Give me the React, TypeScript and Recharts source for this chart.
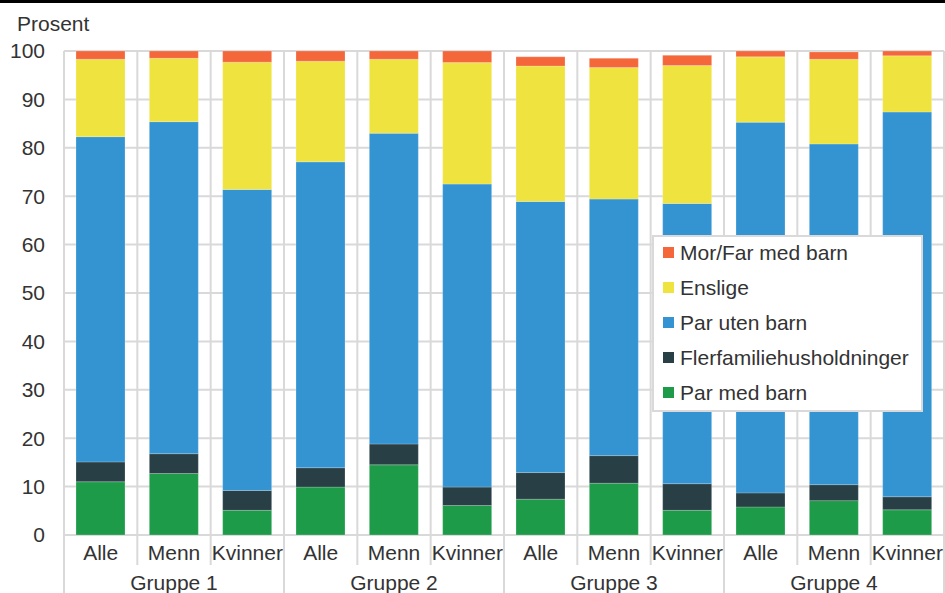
import { BarChart, Bar, XAxis, YAxis, CartesianGrid } from "recharts";

const categories = ["Alle", "Menn", "Kvinner", "Alle", "Menn", "Kvinner", "Alle", "Menn", "Kvinner", "Alle", "Menn", "Kvinner"];
const groups = ["Gruppe 1", "Gruppe 2", "Gruppe 3", "Gruppe 4"];
const yTicks = [0, 10, 20, 30, 40, 50, 60, 70, 80, 90, 100];

const parMedBarn = [11.0, 12.7, 5.1, 9.9, 14.5, 6.1, 7.4, 10.7, 5.1, 5.8, 7.1, 5.2];
const flerfamilie = [4.1, 4.1, 4.1, 4.0, 4.3, 3.8, 5.5, 5.7, 5.5, 2.9, 3.3, 2.7];
const parUtenBarn = [67.2, 68.6, 62.2, 63.2, 64.2, 62.6, 56.0, 53.0, 57.9, 76.6, 70.4, 79.5];
const enslige = [16.0, 13.1, 26.3, 20.8, 15.3, 25.1, 28.0, 27.2, 28.5, 13.5, 17.5, 11.6];
const morFar = [1.7, 1.5, 2.3, 2.1, 1.7, 2.4, 1.9, 1.9, 2.1, 1.2, 1.5, 1.0];

const series = [
  { key: "parMedBarn", name: "Par med barn", color: "#1d9b48", values: parMedBarn },
  { key: "flerfamilie", name: "Flerfamiliehusholdninger", color: "#273f45", values: flerfamilie },
  { key: "parUtenBarn", name: "Par uten barn", color: "#3494d2", values: parUtenBarn },
  { key: "enslige", name: "Enslige", color: "#efe340", values: enslige },
  { key: "morFar", name: "Mor/Far med barn", color: "#f4673a", values: morFar },
];

const data = categories.map((c, i) => {
  const row: any = { name: c, idx: i };
  series.forEach((s) => (row[s.key] = s.values[i]));
  return row;
});

const FONT = "'Liberation Sans', Arial, sans-serif";
const TEXT = "#333333";
const GRID = "#d9d9d9";
const FS = 21;

function GroupTick(props: any) {
  const { x, y, payload, index, width, visibleTicksCount } = props;
  const step = width && visibleTicksCount ? width / visibleTicksCount : 73.33;
  const i = payload?.index ?? index;
  const left = x - step / 2;
  const right = x + step / 2;
  const groupStart = i % 3 === 0;
  return (
    <g>
      <line x1={left} x2={left} y1={y} y2={groupStart ? y + 60 : y + 30} stroke={GRID} strokeWidth={2} />
      {i === categories.length - 1 && (
        <line x1={right} x2={right} y1={y} y2={y + 60} stroke={GRID} strokeWidth={2} />
      )}
      <text x={x} y={y + 25} textAnchor="middle" fill={TEXT} fontSize={FS} fontFamily={FONT}>
        {payload.value}
      </text>
      {i % 3 === 1 && (
        <text x={x} y={y + 55} textAnchor="middle" fill={TEXT} fontSize={FS} fontFamily={FONT}>
          {groups[Math.floor(i / 3)]}
        </text>
      )}
    </g>
  );
}

function LegendBox() {
  const items = [...series].reverse();
  return (
    <div
      style={{
        position: "absolute",
        left: 652,
        top: 235,
        width: 271,
        height: 177,
        boxSizing: "border-box",
        border: `2px solid ${GRID}`,
        background: "#ffffff",
        paddingLeft: 9,
        fontFamily: FONT,
        fontSize: FS,
        color: TEXT,
      }}
    >
      <div style={{ marginTop: -2 }}>
        {items.map((s) => (
          <div key={s.key} style={{ display: "flex", alignItems: "center", height: 35 }}>
            <span style={{ width: 11, height: 11, background: s.color, marginRight: 6, flexShrink: 0 }} />
            <span>{s.name}</span>
          </div>
        ))}
      </div>
    </div>
  );
}

export default function App() {
  return (
    <div style={{ position: "absolute", left: 0, top: 0, width: 945, height: 593, background: "#fff", overflow: "hidden" }}>
      <div
        style={{
          position: "absolute",
          left: 17,
          top: 12,
          fontFamily: FONT,
          fontSize: FS,
          color: TEXT,
          lineHeight: "24px",
        }}
      >
        Prosent
      </div>
      <BarChart
        width={945}
        height={593}
        data={data}
        margin={{ top: 51, right: 1, left: 0, bottom: 0 }}
        barSize={49}
      >
        <CartesianGrid
          stroke={GRID}
          strokeWidth={2}
          verticalCoordinatesGenerator={({ offset }: any) =>
            categories.map((_, i) => offset.left + (i * offset.width) / categories.length).concat(offset.left + offset.width)
          }
        />
        <XAxis
          dataKey="name"
          height={58}
          interval={0}
          axisLine={false}
          tickLine={false}
          tickSize={0}
          tickMargin={0}
          tick={<GroupTick />}
        />
        <YAxis
          width={64}
          domain={[0, 100]}
          ticks={yTicks}
          axisLine={false}
          tickLine={false}
          tickSize={6}
          tickMargin={13}
          tick={{ fill: TEXT, fontSize: FS, fontFamily: FONT }}
        />
        {series.map((s) => (
          <Bar
            key={s.key}
            dataKey={s.key}
            name={s.name}
            stackId="a"
            fill={s.color}
            stroke="#ffffff"
            strokeOpacity={0.35}
            strokeWidth={0.6}
            isAnimationActive={false}
          />
        ))}
      </BarChart>
      <LegendBox />
      <div style={{ position: "absolute", left: 0, top: 0, width: 945, height: 3, background: "#000" }} />
    </div>
  );
}
